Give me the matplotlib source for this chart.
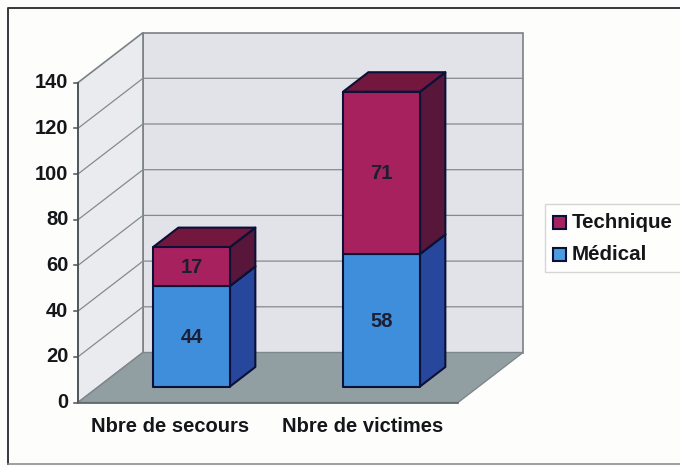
import matplotlib
matplotlib.use('Agg')
import matplotlib.pyplot as plt
from matplotlib.patches import Polygon, Rectangle

plt.rcParams['font.family'] = ['Liberation Sans', 'DejaVu Sans']

# valeurs
categories = ['Nbre de secours', 'Nbre de victimes']
medical = [44, 58]
technique = [17, 71]
yticks = [0, 20, 40, 60, 80, 100, 120, 140]

# repere oblique en pixels de l'image
X0, Y0 = 78, 402.5
CAT_W = 190
PX_PER_UNIT = 2.285
DEPTH_X, DEPTH_Y = 65, -50


def proj(x, v, d=0):
    # x en categories, v en valeur, d en profondeur (0 devant, 1 au fond)
    return (X0 + x * CAT_W + d * DEPTH_X, Y0 - v * PX_PER_UNIT + d * DEPTH_Y)


fig = plt.figure(figsize=(6.8, 4.67), dpi=100, facecolor='#fdfdfc')
ax = fig.add_axes([0, 0, 1, 1])
ax.set_xlim(0, 680)
ax.set_ylim(467, 0)
ax.axis('off')

# cadre (pas de bord a droite, il sort de l'image)
ax.plot([684, 7.5, 7.5], [8, 8, 464], color='#35383b', lw=1.4)
ax.plot([7.5, 684], [464, 464], color='#8b8e90', lw=1.2)

nx = len(categories)
vmax = yticks[-1]
wall_ec = '#7a8185'

# parois
ax.add_patch(Polygon([proj(0, 0, 1), proj(nx, 0, 1), proj(nx, vmax, 1), proj(0, vmax, 1)],
                     fc='#e1e3e9', ec=wall_ec, lw=1.2, zorder=1))
ax.add_patch(Polygon([proj(0, 0, 0), proj(0, 0, 1), proj(0, vmax, 1), proj(0, vmax, 0)],
                     fc='#e9ebef', ec=wall_ec, lw=1.2, zorder=1))
ax.add_patch(Polygon([proj(0, 0, 0), proj(nx, 0, 0), proj(nx, 0, 1), proj(0, 0, 1)],
                     fc='#919fa3', ec='#7d888c', lw=1, zorder=1))

# grille et graduations
for v in yticks[1:-1]:
    ax.plot(*zip(proj(0, v, 0), proj(0, v, 1), proj(nx, v, 1)), color='#858a8e', lw=0.9, zorder=2)
for v in yticks:
    x, y = proj(0, v, 0)
    ax.plot([x - 4, x], [y, y], color='#4c5256', lw=1.1, zorder=2)
    ax.text(x - 9.5, y, str(v), ha='right', va='center', fontsize=14.5, fontweight='bold',
            color='#15161a', zorder=5)
ax.plot(*zip(proj(0, 0, 0), proj(0, vmax, 0)), color='#4c5256', lw=1.3, zorder=2)
ax.plot(*zip(proj(0, 0, 0), proj(nx, 0, 0)), color='#5c6468', lw=1.2, zorder=2)

# barres empilees
BAR_W = 0.405
D1, D2 = 0.32, 0.71
X_SHIFT = -0.012
edge = '#0b1036'


def box(xc, v0, v1, front, side, top, label, z):
    l, r = xc - BAR_W / 2, xc + BAR_W / 2
    ax.add_patch(Polygon([proj(r, v0, D1), proj(r, v0, D2), proj(r, v1, D2), proj(r, v1, D1)],
                         fc=side, ec=edge, lw=1.5, joinstyle='round', zorder=z))
    ax.add_patch(Polygon([proj(l, v1, D1), proj(r, v1, D1), proj(r, v1, D2), proj(l, v1, D2)],
                         fc=top, ec=edge, lw=1.5, joinstyle='round', zorder=z))
    ax.add_patch(Polygon([proj(l, v0, D1), proj(r, v0, D1), proj(r, v1, D1), proj(l, v1, D1)],
                         fc=front, ec=edge, lw=1.5, joinstyle='round', zorder=z))
    tx, ty = proj(xc, (v0 + v1) / 2, D1)
    ax.text(tx, ty + 1, label, ha='center', va='center', fontsize=14.5, fontweight='bold',
            color='#1c1f33', zorder=z + 1)


for i, cat in enumerate(categories):
    xc = i + 0.5 + X_SHIFT
    box(xc, 0, medical[i], '#3f8edb', '#27479d', '#27479d', str(medical[i]), 3)
    box(xc, medical[i], medical[i] + technique[i], '#a8215f', '#57163a', '#74173f',
        str(technique[i]), 3)
    tx, ty = proj(i + 0.5, 0, 0)
    ax.text(tx - 3 + i * 3, ty + 24, cat, ha='center', va='center', fontsize=14.5,
            fontweight='bold', color='#15161a', zorder=5)

# legende
ax.add_patch(Rectangle((545, 204), 140, 68, fc='#fefefd', ec='#d4d6d6', lw=1, zorder=2))
leg_items = [('Technique', '#a8215f'), ('Médical', '#4a9be0')]
for k, (name, col) in enumerate(leg_items):
    ymid = 222 + k * 32
    ax.add_patch(Rectangle((552.5, ymid - 6.5), 13, 13, fc=col, ec=edge, lw=1.5, zorder=3))
    ax.text(572, ymid, name, ha='left', va='center', fontsize=14.8, fontweight='bold',
            color='#15161a', zorder=4)

fig.savefig('out.png', dpi=100, facecolor=fig.get_facecolor())
